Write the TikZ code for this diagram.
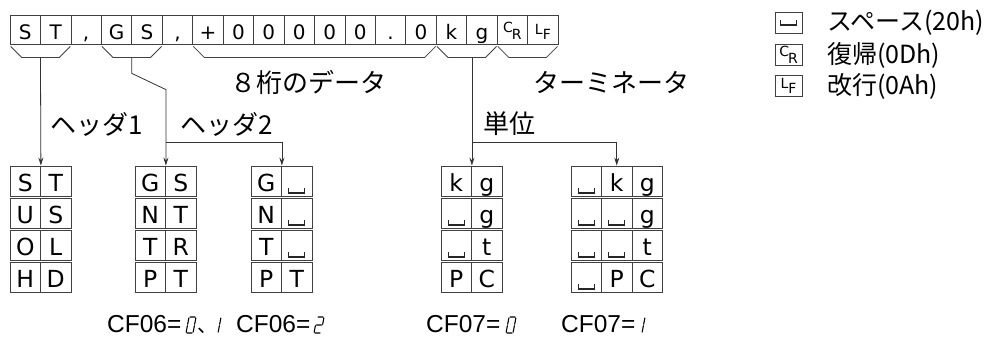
\documentclass[tikz,border=0pt]{standalone}
\usepackage{graphicx}
\usepackage{fontspec}
\setmainfont{Noto Sans CJK JP}
\newfontfamily\lat{Liberation Sans}
\newfontfamily\dvs{DejaVu Sans}
\usetikzlibrary{arrows.meta,calc}
\newcommand\crmark{{\dvs\fontsize{14}{14}\selectfont\raisebox{6.5pt}{C}\kern-1pt R}}
\newcommand\lfmark{{\dvs\fontsize{14}{14}\selectfont\raisebox{4.5pt}{L}\kern0pt F}}
\newcommand\spmark{\tikz[baseline=1.5pt]\draw[line width=1.4pt,black!85] (0pt,5pt)--(0pt,0pt)--(16pt,0pt)--(16pt,5pt);}
\newcommand\sdig[2]{\begin{scope}[shift={(#1,333)},x=1pt,y=1pt,xslant=0.19]#2\end{scope}}
\newcommand\dzero{\draw[seg] (0,1)--(0,7.3) (0,8.7)--(0,15) (1,16)--(6,16) (7,15)--(7,8.7) (7,7.3)--(7,1) (6,0)--(1,0);}
\newcommand\done{\draw[seg] (7,15)--(7,8.7) (7,7.3)--(7,1);}
\newcommand\dtwo{\draw[seg] (1,16)--(6,16) (7,15)--(7,8.7) (1,8)--(6,8) (0,7.3)--(0,1) (1,0)--(6,0);}
\begin{document}
\begin{tikzpicture}[x=1pt,y=-1pt,
  cell/.style={draw=black!75, line width=0.8pt, minimum width=30.45pt, minimum height=29pt, inner sep=0pt, text height=19pt, text depth=0pt, font=\dvs\fontsize{20}{20}\selectfont},
  bcell/.style={draw=black!75, line width=0.8pt, minimum width=30.5pt, minimum height=30pt, inner sep=0pt, text height=21pt, text depth=0pt, font=\dvs\fontsize{23.5}{23.5}\selectfont},
  conn/.style={draw=black!80, line width=0.8pt},
  arr/.style={conn, -{Stealth[length=8pt,width=5pt]}},
  brace/.style={draw=black!75, line width=0.8pt},
  jlab/.style={font=\fontsize{26}{26}\selectfont, inner sep=0pt, anchor=west},
  lglab/.style={font=\fontsize{25}{25}\selectfont, inner sep=0pt, anchor=west},
  lgbox/.style={draw=black!75, line width=0.8pt, minimum width=27pt, minimum height=21pt, inner sep=0pt},
  cflab/.style={font=\lat\fontsize{24.5}{24.5}\selectfont, inner sep=0pt, text depth=0pt, anchor=base west},
  seg/.style={line width=1.1pt, line cap=round},
]
\useasboundingbox (0,0) rectangle (990,338);
% top row
\foreach \t [count=\i] in {S,T,{,},G,S,{,},+,0,0,0,0,0,.,0,k,g,\crmark,\lfmark}
  \node[cell] (t\i) at ({10+30.45*(\i-0.5)},29.5) {\t};
% brackets
\foreach \a/\b/\n in {1/2/1,4/5/2,7/14/3,15/16/4,17/18/5} {
  \draw[brace] ($(t\a.south west)+(1,2)$) -- ($(t\a.south west)+(12,13)$) -- ($(t\b.south east)+(-12,13)$) -- ($(t\b.south east)+(-1,2)$);
  \coordinate (m\n) at ($(t\a.south west)!0.5!(t\b.south east)+(0,13)$);
}
% bottom groups
\foreach \p/\q [count=\j] in {S/T,U/S,O/L,H/D} {
  \node[bcell] (g1-\j-1) at (25.25,{181+32*(\j-1)}) {\p};
  \node[bcell] (g1-\j-2) at (55.75,{181+32*(\j-1)}) {\q};
}
\foreach \p/\q [count=\j] in {G/S,N/T,T/R,P/T} {
  \node[bcell] (g2-\j-1) at (150.25,{181+32*(\j-1)}) {\p};
  \node[bcell] (g2-\j-2) at (180.75,{181+32*(\j-1)}) {\q};
}
\foreach \p/\q [count=\j] in {G/\spmark,N/\spmark,T/\spmark,P/T} {
  \node[bcell] (g3-\j-1) at (266.25,{181+32*(\j-1)}) {\p};
  \node[bcell] (g3-\j-2) at (296.75,{181+32*(\j-1)}) {\q};
}
\foreach \p/\q [count=\j] in {k/g,\spmark/g,\spmark/t,P/C} {
  \node[bcell] (g4-\j-1) at (456.25,{181+32*(\j-1)}) {\p};
  \node[bcell] (g4-\j-2) at (486.75,{181+32*(\j-1)}) {\q};
}
\foreach \p/\q/\r [count=\j] in {\spmark/k/g,\spmark/\spmark/g,\spmark/\spmark/t,\spmark/P/C} {
  \node[bcell] (g5-\j-1) at (586.25,{181+32*(\j-1)}) {\p};
  \node[bcell] (g5-\j-2) at (616.75,{181+32*(\j-1)}) {\q};
  \node[bcell] (g5-\j-3) at (647.25,{181+32*(\j-1)}) {\r};
}
% connectors
\draw[arr] (m1) -- (g1-1-1.north east);
\draw[arr] (m2) -- ++(0,16) -- ($(g2-1-1.north east)+(0,-76)$) -- (g2-1-1.north east);
\coordinate (j2) at ($(g2-1-1.north east)+(0,-23)$);
\draw[arr] (j2) -| (g3-1-1.north east);
\draw[arr] (g4-1-1.north east |- m4) -- (g4-1-1.north east);
\coordinate (j4) at ($(g4-1-1.north east)+(0,-23)$);
\draw[arr] (j4) -| (g5-1-2.north);
% labels
\node[jlab] (l1) at (230,82) {８桁のデータ};
\node[jlab] (l2) at (533,82) {ターミネータ};
\node[jlab] (l3) at (50,124) {ヘッダ1};
\node[jlab] (l4) at (180,124) {ヘッダ2};
\node[jlab] (l5) at (483,124) {単位};
% legend
\node[lgbox] (k1) at (788.5,22.5) {\spmark};
\node[lgbox] (k2) at (788.5,55) {\crmark};
\node[lgbox] (k3) at (788.5,86) {\lfmark};
\node[lglab] (k1t) at (827,22.5) {スペース(20h)};
\node[lglab] (k2t) at (827,55) {復帰(0Dh)};
\node[lglab] (k3t) at (827,86) {改行(0Ah)};
% CF labels
\node[cflab] (f1) at (107,332) {CF06=};
\sdig{186}{\dzero}
\node[font=\fontsize{20}{20}\selectfont, inner sep=0pt, text depth=0pt, anchor=base west] (f2) at (197,332) {、};
\sdig{211}{\done}
\node[cflab] (f3) at (236,332) {CF06=};
\sdig{314}{\dtwo}
\node[cflab] (f4) at (426,332) {CF07=};
\sdig{506}{\dzero}
\node[cflab] (f5) at (561,332) {CF07=};
\sdig{635}{\done}
\end{tikzpicture}
\end{document}
